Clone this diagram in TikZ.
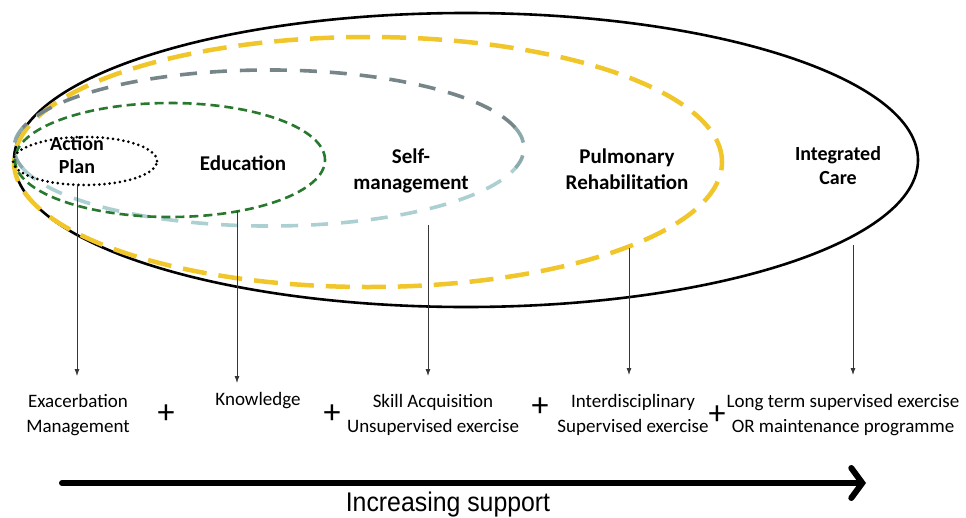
\documentclass[tikz,border=0pt]{standalone}
\usepackage{fontspec}
\setmainfont{Carlito}
\newfontfamily\arialfont{Liberation Sans}
\usetikzlibrary{arrows.meta,shapes.geometric}
\definecolor{ygold}{RGB}{240,198,42}
\definecolor{sgray}{RGB}{118,134,136}
\definecolor{smid}{RGB}{140,170,172}
\definecolor{sblue}{RGB}{172,208,210}
\definecolor{dgreen}{RGB}{40,120,45}
\definecolor{conngray}{RGB}{55,55,55}
\begin{document}
\begin{tikzpicture}[x=1pt,y=-1pt,
  oval/.style={ellipse, inner sep=0pt},
  inlabel/.style={anchor=base, align=center, font=\bfseries\fontsize{21}{26}\selectfont},
  outlabel/.style={anchor=base, align=center, font=\fontsize{19}{25}\selectfont},
  plussign/.style={anchor=center, font=\fontsize{34}{34}\selectfont},
  conn/.style={conngray, line width=0.8pt, -{Latex[length=7pt,width=5pt]}},
  smdash/.style={line width=3.6pt, dash pattern=on 17pt off 13pt}
]
\useasboundingbox (0,0) rectangle (966,517);

% ellipses
\node[oval, draw, line width=2.6pt, minimum width=904pt, minimum height=294pt] (icE) at (466,160) {};
\node[oval, draw=ygold, line width=4.5pt, dash pattern=on 24pt off 12pt, minimum width=708pt, minimum height=250pt] (prE) at (368,162) {};
\node[oval, minimum width=510pt, minimum height=156pt] (smE) at (269,148) {};
\coordinate (smA) at (515.3,127.8);
\coordinate (smB) at (22.7,127.8);
\coordinate (smC) at (22.7,168.2);
\draw[smdash, sgray] (smA) arc[start angle=15, end angle=165, x radius=255pt, y radius=78pt];
\draw[smdash, smid] (smA) arc[start angle=15, end angle=-15, x radius=255pt, y radius=78pt];
\draw[smdash, smid] (smB) arc[start angle=165, end angle=195, x radius=255pt, y radius=78pt];
\draw[smdash, sblue] (smC) arc[start angle=195, end angle=345, x radius=255pt, y radius=78pt];
\node[oval, draw=dgreen, line width=2.6pt, dash pattern=on 9pt off 5pt, minimum width=310pt, minimum height=114pt] (edE) at (170,160) {};
\node[oval, draw, line width=3pt, line cap=round, dash pattern=on 0pt off 5.2pt, minimum width=144pt, minimum height=48pt] (apE) at (85,161) {};

% ellipse labels (base = last line)
\node[inlabel, font=\bfseries\fontsize{20}{23}\selectfont] (apL) at (77,173) {Action\\Plan};
\node[inlabel] (edL) at (243,170) {Education};
\node[inlabel] (smL) at (411,189) {Self-\\management};
\node[inlabel] (prL) at (627,189) {Pulmonary\\Rehabilitation};
\node[inlabel, font=\bfseries\fontsize{20}{24}\selectfont] (icL) at (838,184) {Integrated\\Care};

% bottom labels (base = last line)
\node[outlabel] (b1) at (78,432) {Exacerbation\\Management};
\node[outlabel] (b2) at (258,405) {Knowledge};
\node[outlabel] (b3) at (433,432) {Skill Acquisition\\Unsupervised exercise};
\node[outlabel] (b4) at (633,432) {Interdisciplinary\\Supervised exercise};
\node[outlabel] (b5) at (843,432) {Long term supervised exercise\\OR maintenance programme};

\node[plussign] (p1) at (166,414) {+};
\node[plussign] (p2) at (332,414) {+};
\node[plussign] (p3) at (540,407) {+};
\node[plussign] (p4) at (717,415) {+};

% connectors
\coordinate (s1) at (77,185);  \coordinate (t1) at (77,376);
\coordinate (s2) at (237,211); \coordinate (t2) at (237,383);
\coordinate (s3) at (428,225); \coordinate (t3) at (428,376);
\coordinate (s4) at (629,248); \coordinate (t4) at (629,375);
\coordinate (s5) at (853,245); \coordinate (t5) at (853,375);
\draw[conn] (s1) -- (t1);
\draw[conn] (s2) -- (t2);
\draw[conn] (s3) -- (t3);
\draw[conn] (s4) -- (t4);
\draw[conn] (s5) -- (t5);

% main arrow
\coordinate (a0) at (62,483);
\coordinate (a1) at (866,483);
\draw[line width=6pt, line cap=round, -{Straight Barb[length=11pt,width=30pt,line cap=round]}] (a0) -- (a1);
\node[anchor=base, font=\arialfont\fontsize{27}{30}\selectfont] (inc) at (448,511) {\scalebox{0.92}[1]{Increasing support}};
\end{tikzpicture}
\end{document}
